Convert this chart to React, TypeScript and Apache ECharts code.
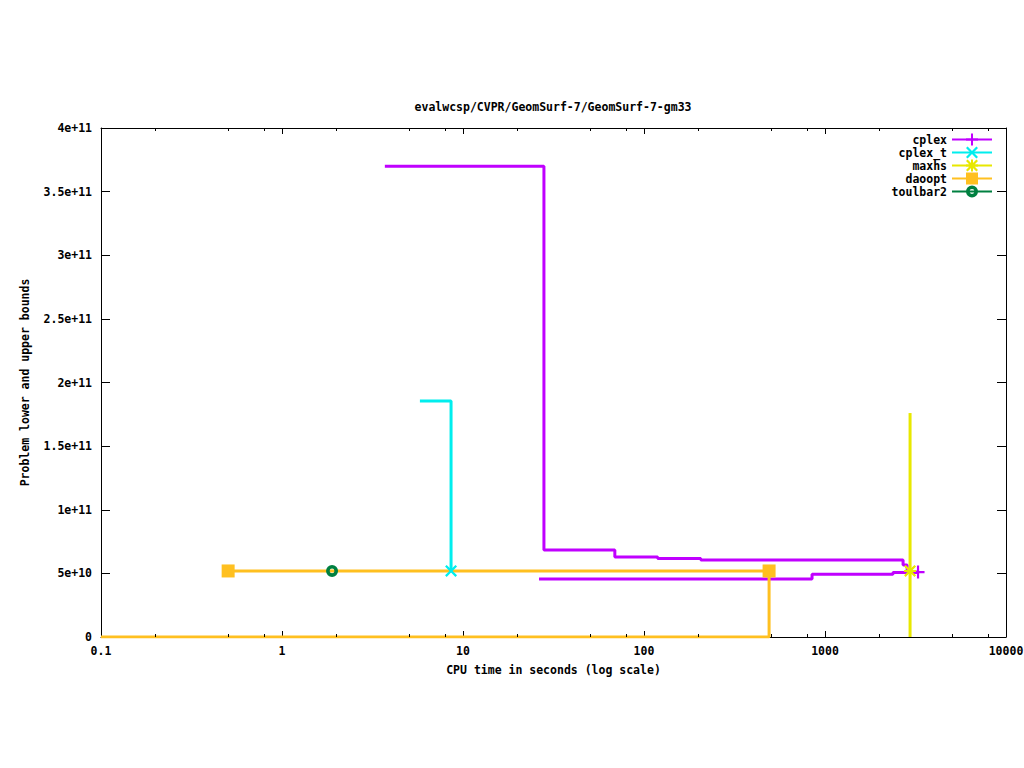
import React, { useEffect, useRef } from "react";
import * as echarts from "echarts";

// ---- data ----
const seriesNames = ["cplex", "cplex_t", "maxhs", "daoopt", "toulbar2"];

const cplexUpperTime = [3.7, 28, 69, 119, 206, 2700, 2844, 3266];
const cplexUpperBound = [3.7e11, 6.84e10, 6.29e10, 6.17e10, 6.05e10, 5.66e10, 5.1e10, 5.1e10];
const cplexLowerTime = [26.3, 848, 2375, 3266];
const cplexLowerBound = [4.56e10, 4.93e10, 5.07e10, 5.1e10];

const cplexTTime = [5.78, 8.59];
const cplexTBound = [1.855e11, 5.19e10];

const maxhsUpperTime = [2951, 2951];
const maxhsUpperBound = [1.76e11, 5.19e10];
const maxhsLowerTime = [2951, 2951];
const maxhsLowerBound = [0, 5.19e10];

const daooptUpperTime = [0.504, 491];
const daooptUpperBound = [5.19e10, 5.19e10];
const daooptLowerTime = [0.1, 491];
const daooptLowerBound = [0, 5.19e10];

const toulbar2Time = [1.89];
const toulbar2Bound = [5.19e10];

const minorTickValues = [0.2, 0.5, 0.8, 2, 5, 8, 20, 50, 80, 200, 500, 800, 2000, 5000, 8000];

const COLORS = {
  cplex: "#c000ff",
  cplex_t: "#00eeee",
  maxhs: "#e8e800",
  daoopt: "#ffc020",
  toulbar2: "#008040",
};

const FONT = '"DejaVu Sans Mono", "Liberation Mono", monospace';

const SYM_PLUS = "path://M5,0H7V5H12V7H7V12H5V7H0V5H5Z";
const SYM_X =
  "path://M0,1.6L1.6,0L6,4.4L10.4,0L12,1.6L7.6,6L12,10.4L10.4,12L6,7.6L1.6,12L0,10.4L4.4,6Z";
const SYM_STAR =
  "path://M5,0H7V5H12V7H7V12H5V7H0V5H5Z M0,1.6L1.6,0L6,4.4L10.4,0L12,1.6L7.6,6L12,10.4L10.4,12L6,7.6L1.6,12L0,10.4L4.4,6Z";
const SYM_RING =
  "path://M6,0A6,6,0,1,1,6,12A6,6,0,1,1,6,0ZM6,3.6A2.4,2.4,0,1,0,6,8.4A2.4,2.4,0,1,0,6,3.6Z";

function mkSeries(
  name: string,
  color: string,
  times: number[],
  values: number[],
  marks: number[],
  symbol: string,
  symbolSize: number
) {
  return {
    type: "line",
    name,
    step: "end",
    xAxisIndex: 0,
    yAxisIndex: 0,
    symbol,
    symbolSize,
    showSymbol: true,
    showAllSymbol: true,
    data: times.map((t, i) => {
      const item: any = { value: [t, values[i]] };
      if (!marks.includes(i)) item.symbol = "none";
      return item;
    }),
    lineStyle: { color, width: 3 },
    itemStyle: { color, borderWidth: 0 },
    emphasis: { disabled: true },
    silent: true,
  };
}

function yFmt(v: number) {
  if (v === 0) return "0";
  const e = Math.floor(Math.log10(v) + 1e-9);
  const m = Math.round((v / Math.pow(10, e)) * 100) / 100;
  return `${m}e+${e}`;
}

export default function App() {
  const ref = useRef<HTMLDivElement>(null);
  useEffect(() => {
    if (!ref.current) return;
    document.body.style.margin = "0";
    const chart = echarts.init(ref.current, undefined, { renderer: "svg" });
    const textBase = { fontFamily: FONT, fontSize: 11.5, fontWeight: "bold", color: "#000" };
    const axisCommonX = {
      type: "log",
      logBase: 10,
      min: 0.1,
      max: 10000,
      axisLine: { show: true, onZero: false, lineStyle: { color: "#000", width: 1 } },
      axisTick: { show: true, inside: true, length: 6, lineStyle: { color: "#000", width: 1 } },
      splitLine: { show: false },
      minorTick: { show: false },
    };
    const axisCommonY = {
      type: "value",
      min: 0,
      max: 4e11,
      interval: 5e10,
      axisLine: { show: true, onZero: false, lineStyle: { color: "#000", width: 1 } },
      axisTick: { show: true, inside: true, length: 9, lineStyle: { color: "#000", width: 1 } },
      splitLine: { show: false },
    };
    const option: any = {
      animation: false,
      backgroundColor: "#fff",
      textStyle: { fontFamily: FONT },
      grid: {
        left: 101,
        right: 18,
        top: 128,
        bottom: 131,
        containLabel: false,
        outerBoundsMode: "none",
      },
      xAxis: [
        {
          ...axisCommonX,
          position: "bottom",
          axisLabel: {
            ...textBase,
            margin: 8,
            hideOverlap: false,
            formatter: (v: number) => String(Number(v.toPrecision(3))),
          },
          name: "CPU time in seconds (log scale)",
          nameLocation: "middle",
          nameGap: 27,
          nameTextStyle: textBase,
        },
        {
          ...axisCommonX,
          position: "top",
          axisLabel: { show: false },
        },
      ],
      yAxis: [
        {
          ...axisCommonY,
          position: "left",
          axisLabel: { ...textBase, margin: 9, formatter: yFmt },
          name: "Problem lower and upper bounds",
          nameLocation: "middle",
          nameGap: 70,
          nameTextStyle: textBase,
        },
        {
          ...axisCommonY,
          position: "right",
          axisLabel: { show: false },
        },
      ],
      legend: seriesNames.map((n, i) => ({
        data: [n],
        right: 31,
        top: 141 + 13 * i - 7.5,
        orient: "vertical",
        align: "right",
        itemWidth: 40,
        itemHeight: 15,
        itemGap: 0,
        padding: 0,
        selectedMode: false,
        textStyle: textBase,
      })),
      graphic: [
        {
          type: "text",
          x: 553,
          y: 107,
          style: {
            text: "evalwcsp/CVPR/GeomSurf-7/GeomSurf-7-gm33",
            fontFamily: FONT,
            fontSize: 11.5,
            fontWeight: "bold",
            fill: "#000",
            align: "center",
            verticalAlign: "middle",
          },
        },
      ],
      series: [
        {
          type: "custom",
          xAxisIndex: 0,
          yAxisIndex: 0,
          silent: true,
          z: 5,
          data: minorTickValues.map((v) => [v, 0]),
          encode: { x: 0, y: 1 },
          renderItem: (params: any, api: any) => {
            const x = Math.round(api.coord([api.value(0), 0])[0]) + 0.5;
            const cs = params.coordSys;
            return {
              type: "group",
              children: [
                {
                  type: "line",
                  shape: { x1: x, y1: cs.y + cs.height, x2: x, y2: cs.y + cs.height - 3 },
                  style: { stroke: "#000", lineWidth: 1 },
                },
                {
                  type: "line",
                  shape: { x1: x, y1: cs.y, x2: x, y2: cs.y + 3 },
                  style: { stroke: "#000", lineWidth: 1 },
                },
              ],
            };
          },
        },
        mkSeries("cplex", COLORS.cplex, cplexUpperTime, cplexUpperBound, [], SYM_PLUS, 13),
        mkSeries("cplex", COLORS.cplex, cplexLowerTime, cplexLowerBound, [3], SYM_PLUS, 13),
        mkSeries("cplex_t", COLORS.cplex_t, cplexTTime, cplexTBound, [1], SYM_X, 12),
        mkSeries("maxhs", COLORS.maxhs, maxhsLowerTime, maxhsLowerBound, [], SYM_STAR, 12),
        mkSeries("maxhs", COLORS.maxhs, maxhsUpperTime, maxhsUpperBound, [1], SYM_STAR, 12),
        mkSeries("daoopt", COLORS.daoopt, daooptLowerTime, daooptLowerBound, [], "rect", 13),
        mkSeries("daoopt", COLORS.daoopt, daooptUpperTime, daooptUpperBound, [0, 1], "rect", 13),
        mkSeries("toulbar2", COLORS.toulbar2, toulbar2Time, toulbar2Bound, [0], SYM_RING, 12),
      ],
    };
    chart.setOption(option);
    return () => chart.dispose();
  }, []);
  return (
    <div
      ref={ref}
      style={{ position: "fixed", left: 0, top: 0, width: 1024, height: 768, background: "#fff" }}
    />
  );
}
